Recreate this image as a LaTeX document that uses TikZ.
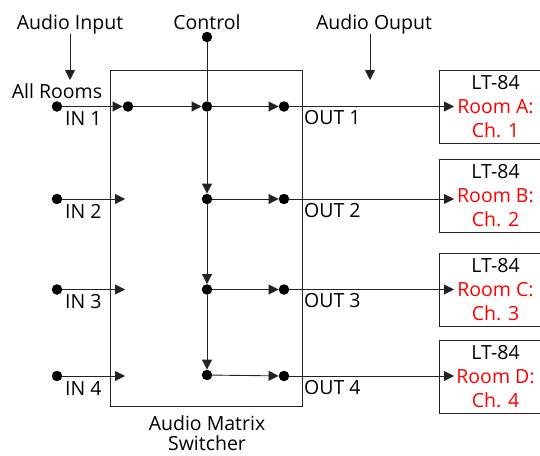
\documentclass[tikz,border=0pt]{standalone}
\usepackage{fontspec}
\setmainfont{Open Sans}
\usetikzlibrary{arrows.meta}
\definecolor{lineg}{HTML}{222222}
\begin{document}
\begin{tikzpicture}[x=1pt,y=-1pt,
  font=\fontsize{19.5}{24}\selectfont,
  wire/.style={draw=lineg,line width=0.9pt},
  arr/.style={wire,-{Triangle[length=10pt,width=10pt]}},
  jdot/.style={circle,fill=black,inner sep=0pt,minimum size=10.5pt},
  lbl/.style={inner sep=0pt,anchor=base west},
  ctr/.style={inner sep=0pt,anchor=base},
  ltbox/.style={draw=lineg,line width=0.9pt,minimum width=113pt,minimum height=73pt,align=center,inner sep=0pt}]
\useasboundingbox (0,0) rectangle (540,455);
% main box
\node[draw=lineg,line width=0.9pt,minimum width=192pt,minimum height=336pt,inner sep=0pt] (mx) at (206,238) {};
% top labels
\node[ctr] (ain) at (70,29) {Audio Input};
\node[ctr] (ctltxt) at (207,29) {Control};
\node[ctr] (aout) at (374,29) {Audio Ouput};
\coordinate (ainT) at (70,34);
\coordinate (ainB) at (70,80);
\draw[arr] (ainT) -- (ainB);
\coordinate (aoutT) at (370,34);
\coordinate (aoutB) at (370,80);
\draw[arr] (aoutT) -- (aoutB);
\node[ctr] (allr) at (57,98) {All Rooms};
% control
\node[jdot] (ctl) at (207,37) {};
% input dots
\node[jdot] (in1) at (57,106.5) {};
\node[jdot] (in2) at (57,199) {};
\node[jdot] (in3) at (57,289.5) {};
\node[jdot] (in4) at (57,376) {};
\node[jdot] (d1) at (128,106.5) {};
\coordinate (a2) at (125,199);
\coordinate (a3) at (125,289.5);
\coordinate (a4) at (125,376);
% control junctions
\node[jdot] (c1) at (207,106.5) {};
\node[jdot] (c2) at (207,199) {};
\node[jdot] (c3) at (207,289.5) {};
\node[jdot] (c4) at (207,375) {};
% output dots
\node[jdot] (o1) at (284,106.5) {};
\node[jdot] (o2) at (284,199) {};
\node[jdot] (o3) at (284,289.5) {};
\node[jdot] (o4) at (284,376) {};
% LT-84 boxes
\node[ltbox] (lt1) at (495.5,106.5) {LT-84\\\textcolor{red}{Room A:}\\\textcolor{red}{Ch. 1}};
\node[ltbox] (lt2) at (495.5,196) {LT-84\\\textcolor{red}{Room B:}\\\textcolor{red}{Ch. 2}};
\node[ltbox] (lt3) at (495.5,289.5) {LT-84\\\textcolor{red}{Room C:}\\\textcolor{red}{Ch. 3}};
\node[ltbox] (lt4) at (495.5,376.5) {LT-84\\\textcolor{red}{Room D:}\\\textcolor{red}{Ch. 4}};
\coordinate (t1) at (454,106.5);
\coordinate (t2) at (454,199);
\coordinate (t3) at (454,289.5);
\coordinate (t4) at (454,376);
% wires
\draw[arr] (in1) -- (d1);
\draw[arr] (d1) -- (c1);
\draw[arr] (in2) -- (a2);
\draw[arr] (in3) -- (a3);
\draw[arr] (in4) -- (a4);
\draw[wire] (ctl) -- (c1);
\draw[arr] (c1) -- (c2);
\draw[arr] (c2) -- (c3);
\draw[arr] (c3) -- (c4);
\draw[arr] (c1) -- (o1);
\draw[arr] (c2) -- (o2);
\draw[arr] (c3) -- (o3);
\draw[arr] (c4) -- (o4);
\draw[arr] (o1) -- (t1);
\draw[arr] (o2) -- (t2);
\draw[arr] (o3) -- (t3);
\draw[arr] (o4) -- (t4);
% port labels
\node[lbl] (l1) at (65,125) {IN 1};
\node[lbl] (l2) at (65,218) {IN 2};
\node[lbl] (l3) at (65,308) {IN 3};
\node[lbl] (l4) at (65,395) {IN 4};
\node[lbl] (r1) at (304,124) {OUT 1};
\node[lbl] (r2) at (304,217) {OUT 2};
\node[lbl] (r3) at (304,307) {OUT 3};
\node[lbl] (r4) at (304,394) {OUT 4};
% bottom label
\node[ctr] (mxl) at (207,430) {Audio Matrix};
\node[ctr] (mxl2) at (207,450) {Switcher};
\end{tikzpicture}
\end{document}
